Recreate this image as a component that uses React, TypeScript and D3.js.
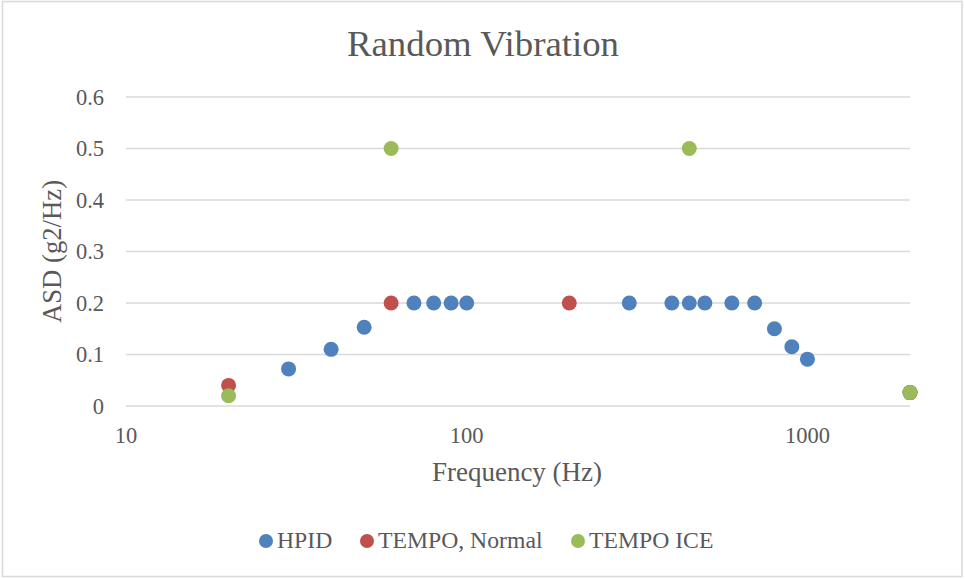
import React from "react";
import * as d3 from "d3";

const hpidFreq = [30, 40, 50, 70, 80, 90, 100, 300, 400, 450, 500, 600, 700, 800, 900, 1000, 2000];
const hpidAsd = [0.072, 0.11, 0.153, 0.2, 0.2, 0.2, 0.2, 0.2, 0.2, 0.2, 0.2, 0.2, 0.2, 0.15, 0.115, 0.091, 0.026];
const normalFreq = [20, 60, 200, 2000];
const normalAsd = [0.04, 0.2, 0.2, 0.026];
const iceFreq = [20, 60, 450, 2000];
const iceAsd = [0.02, 0.5, 0.5, 0.026];
const yTicks = [0, 0.1, 0.2, 0.3, 0.4, 0.5, 0.6];
const xTicks = [10, 100, 1000];
const seriesNames = ["HPID", "TEMPO, Normal", "TEMPO ICE"];
const seriesColors = ["#4F81BD", "#C0504D", "#9BBB59"];

const W = 965;
const H = 579;
const font = "'Liberation Serif', 'Times New Roman', serif";
const textColor = "#595959";

export default function App() {
  const x = d3.scaleLog().domain([10, 2000]).range([126, 910]);
  const y = d3.scaleLinear().domain([0, 0.6]).range([406, 97]);

  const series = [
    { name: seriesNames[0], color: seriesColors[0], f: hpidFreq, v: hpidAsd },
    { name: seriesNames[1], color: seriesColors[1], f: normalFreq, v: normalAsd },
    { name: seriesNames[2], color: seriesColors[2], f: iceFreq, v: iceAsd },
  ];

  const legendX = [266, 367, 578];

  return (
    <svg
      width={W}
      height={H}
      style={{ position: "absolute", left: 0, top: 0, background: "#fff" }}
      fontFamily={font}
    >
      <rect x={2.5} y={1.5} width={959.5} height={575} fill="#fff" stroke="#d9d9d9" strokeWidth={1.5} />
      <text x={483} y={56} textAnchor="middle" fontSize={36.8} fill={textColor}>
        Random Vibration
      </text>
      {yTicks.map((t) => (
        <g key={t}>
          <line x1={x(10)} x2={x(2000)} y1={y(t)} y2={y(t)} stroke="#d9d9d9" strokeWidth={1.5} />
          <text x={104} y={y(t) + 7.5} textAnchor="end" fontSize={22.5} fill={textColor}>
            {t === 0 ? "0" : t.toFixed(1)}
          </text>
        </g>
      ))}
      {xTicks.map((t) => (
        <text key={t} x={x(t)} y={443} textAnchor="middle" fontSize={22.5} fill={textColor}>
          {t}
        </text>
      ))}
      <text x={517} y={481} textAnchor="middle" fontSize={27} fill={textColor}>
        Frequency (Hz)
      </text>
      <text
        transform={`translate(61, ${(y(0) + y(0.6)) / 2}) rotate(-90)`}
        textAnchor="middle"
        fontSize={26.7}
        fill={textColor}
      >
        ASD (g2/Hz)
      </text>
      {series.map((s) => (
        <g key={s.name}>
          {s.f.map((f, i) => (
            <circle key={i} cx={x(f)} cy={y(s.v[i])} r={7.5} fill={s.color} />
          ))}
        </g>
      ))}
      {series.map((s, i) => (
        <g key={s.name}>
          <circle cx={legendX[i]} cy={541} r={7} fill={s.color} />
          <text x={legendX[i] + 11} y={548} fontSize={23.7} fill={textColor}>
            {s.name}
          </text>
        </g>
      ))}
    </svg>
  );
}
